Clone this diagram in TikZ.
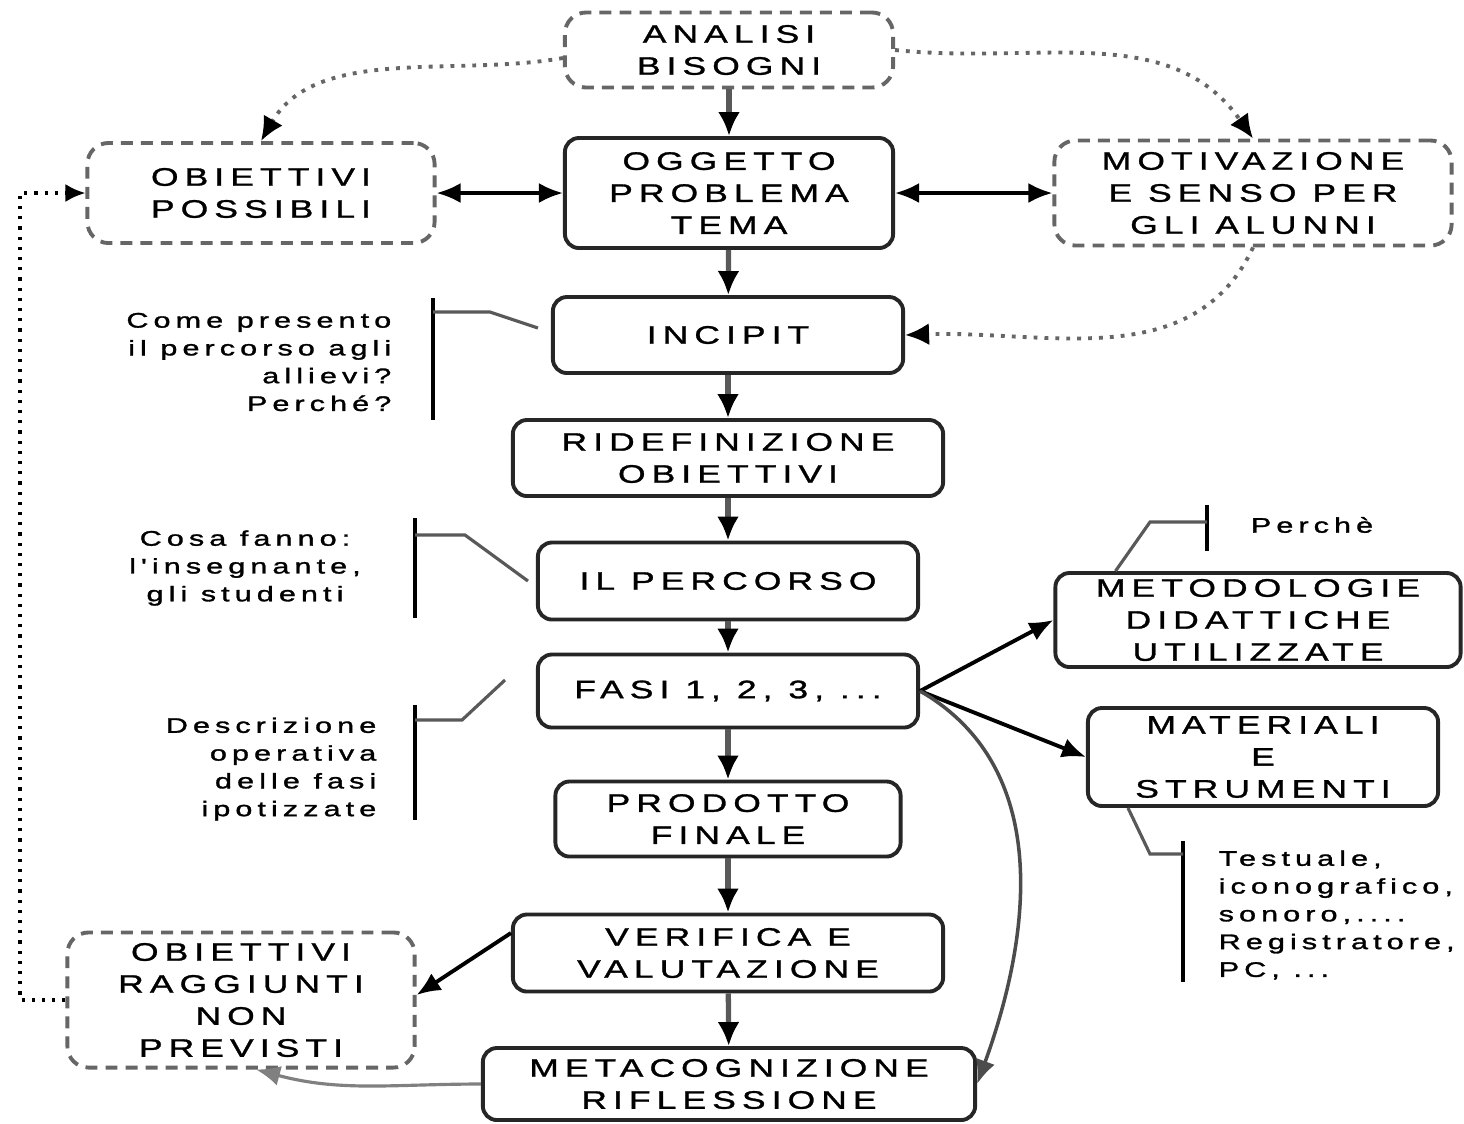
\documentclass[tikz,border=0pt]{standalone}
\usepackage{fontspec}
\setmainfont{Liberation Sans}
\newfontfamily\boxfont[FakeStretch=1.4,LetterSpace=24,FakeBold=1.2]{Liberation Sans}
\newfontfamily\notefont[FakeStretch=1.45,LetterSpace=24,FakeBold=1.4]{Liberation Sans}
\usetikzlibrary{arrows.meta}

\begin{document}
\begin{tikzpicture}[x=0.01cm,y=0.01cm,
  box/.style={draw=black!85,line width=1.1pt,rounded corners=4pt,fill=white,align=center,inner sep=0pt,
    font=\boxfont\fontsize{7.2}{9.1}\selectfont},
  dbox/.style={box,draw=black!60,dash pattern=on 3.4pt off 2.3pt,rounded corners=6pt},
  flow/.style={-{Latex[length=2.4mm,width=2.2mm,color=black]},draw=black!65,line width=1.5pt},
  twoway/.style={{Latex[length=2.4mm,width=2mm]}-{Latex[length=2.4mm,width=2mm]},line width=1pt},
  dots/.style={-{Latex[length=2.4mm,width=2.2mm,color=black]},draw=black!60,line width=1.1pt,dotted},
  fback/.style={-{Latex[length=2mm,width=1.8mm]},line width=0.9pt,dotted},
  branch/.style={-{Latex[length=2.4mm,width=2mm]},line width=1.1pt},
  note/.style={font=\notefont\fontsize{6}{7.9}\selectfont,inner sep=0pt},
  bar/.style={line width=1pt},
  lead/.style={draw=black!65,line width=0.9pt}]
\useasboundingbox (0,0) rectangle (1464,-1123);

% main column
\node[dbox,minimum width=3.28cm,minimum height=0.75cm] (analisi) at (729,-50) {ANALISI\\BISOGNI};
\node[box,minimum width=3.28cm,minimum height=1.1cm] (oggetto) at (729,-193) {OGGETTO\\PROBLEMA\\TEMA};
\node[box,minimum width=3.5cm,minimum height=0.76cm] (incipit) at (728,-335) {INCIPIT};
\node[box,minimum width=4.3cm,minimum height=0.76cm] (ridef) at (728,-458) {RIDEFINIZIONE\\OBIETTIVI};
\node[box,minimum width=3.8cm,minimum height=0.77cm] (percorso) at (728,-581) {IL PERCORSO};
\node[box,minimum width=3.8cm,minimum height=0.73cm] (fasi) at (728,-691) {FASI 1, 2, 3, ...};
\node[box,minimum width=3.45cm,minimum height=0.75cm] (prodotto) at (728,-819) {PRODOTTO\\FINALE};
\node[box,minimum width=4.3cm,minimum height=0.77cm] (verifica) at (728,-953) {VERIFICA E\\VALUTAZIONE};
\node[box,minimum width=4.92cm,minimum height=0.72cm] (meta) at (729,-1084) {METACOGNIZIONE\\RIFLESSIONE};

% side boxes
\node[dbox,minimum width=3.47cm,minimum height=1cm] (obpos) at (261,-193) {OBIETTIVI\\POSSIBILI};
\node[dbox,minimum width=3.97cm,minimum height=1.05cm] (motiv) at (1253,-193) {MOTIVAZIONE\\E SENSO PER\\GLI ALUNNI};
\node[dbox,minimum width=3.47cm,minimum height=1.35cm] (obragg) at (241,-1000) {OBIETTIVI\\RAGGIUNTI\\NON\\PREVISTI};
\node[box,minimum width=4.05cm,minimum height=0.94cm] (metod) at (1258,-620) {METODOLOGIE\\DIDATTICHE\\UTILIZZATE};
\node[box,minimum width=3.5cm,minimum height=0.98cm] (mater) at (1263,-757) {MATERIALI\\E\\STRUMENTI};

% arrows
\foreach \a/\b in {analisi/oggetto,oggetto/incipit,incipit/ridef,ridef/percorso,percorso/fasi,fasi/prodotto,prodotto/verifica,verifica/meta}
  \draw[flow] (\a) -- (\b);
\draw[twoway] (obpos) -- (oggetto);
\draw[twoway] (oggetto) -- (motiv);
\draw[dots] ([yshift=-0.08cm]analisi.west) to[out=190,in=60,looseness=0.9] (obpos.north);
\draw[dots] (analisi.east) to[out=-6,in=125] (motiv.north);
\draw[dots] (motiv.south) to[out=-115,in=2] (incipit.east);
\draw[branch] (fasi.east) -- (metod.west);
\draw[branch] (fasi.east) -- (mater.west);
\draw[branch,draw=black!70,line width=1pt] (fasi.east) to[out=-30,in=70] (meta.east);
\draw[branch] ([yshift=0.2cm]verifica.west) -- ([yshift=0.05cm]obragg.east);
\draw[branch,draw=black!50,line width=0.9pt] (meta.west) to[out=180,in=-15] ([xshift=0.15cm]obragg.south);
\coordinate (lft) at (20,0);
\draw[fback] (obragg.west) -- (obragg.west -| lft) |- (obpos.west);

% notes
\node[note,anchor=east,align=right] (n1) at (392,-362) {Come presento\\il percorso agli\\allievi?\\Perché?};
\draw[bar] (433,-298) -- (433,-420);
\draw[lead] (433,-312) -- (490,-312) -- ([xshift=-0.13cm,yshift=0.07cm]incipit.west);
\node[note,align=center] (n2) at (245,-568) {Cosa fanno:\\l'insegnante,\\gli studenti};
\draw[bar] (415,-518) -- (415,-618);
\draw[lead] (415,-535) -- (465,-535) -- ([xshift=-0.08cm]percorso.west);
\node[note,anchor=east,align=right] (n3) at (377,-769) {Descrizione\\operativa\\delle fasi\\ipotizzate};
\draw[bar] (415,-705) -- (415,-820);
\draw[lead] (415,-720) -- (462,-720) -- (505,-680);
\node[note] (n4) at (1312,-525) {Perchè};
\draw[bar] (1207,-505) -- (1207,-551);
\draw[lead] (1207,-522) -- (1150,-522) -- ([xshift=0.62cm]metod.north west);
\node[note,anchor=west,align=left] (n5) at (1218,-915) {Testuale,\\iconografico,\\sonoro,....\\Registratore,\\PC, ...};
\draw[bar] (1183,-841) -- (1183,-982);
\draw[lead] ([xshift=0.42cm]mater.south west) -- (1150,-854) -- (1183,-854);
\end{tikzpicture}
\end{document}
